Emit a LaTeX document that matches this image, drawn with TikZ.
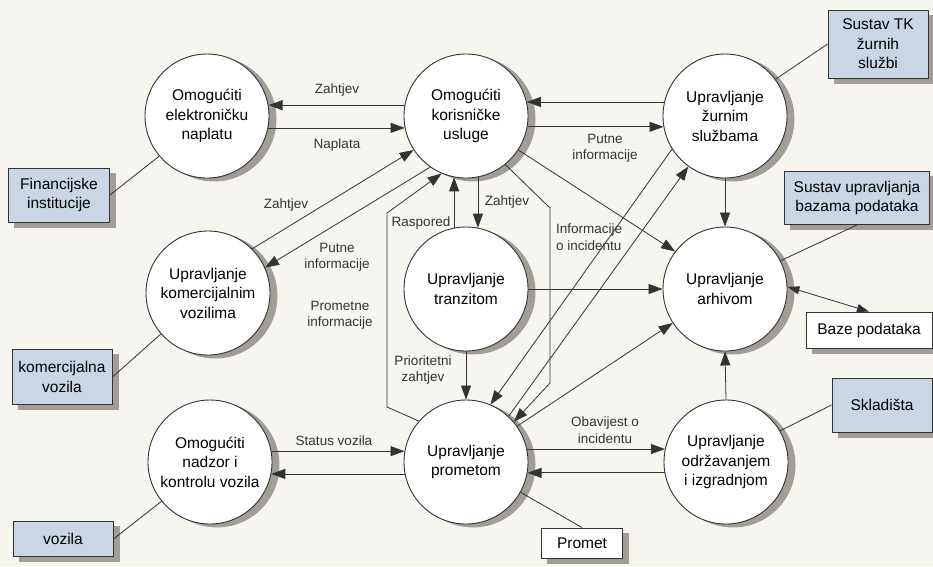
\documentclass[tikz,border=0pt]{standalone}
\usepackage{fontspec}
\setmainfont{Liberation Sans}
\usetikzlibrary{arrows.meta}
\definecolor{papir}{HTML}{F6F5EF}
\definecolor{crta}{HTML}{333333}
\definecolor{plava}{HTML}{CAD6E4}
\definecolor{sjena}{HTML}{A19E97}
\tikzset{
	proces/.style={circle, draw=crta, line width=0.9pt, fill=white, minimum size=124pt, inner sep=0pt, align=center, font=\fontsize{15.5}{19.5}\selectfont, preaction={fill=sjena, draw=sjena, transform canvas={shift={(7pt,-3pt)}}}},
	vanjski/.style={draw=crta, line width=0.9pt, fill=plava, inner sep=0pt, align=center, font=\fontsize{15.5}{19.5}\selectfont, preaction={fill=sjena, draw=sjena, transform canvas={shift={(6pt,-5pt)}}}},
	spremiste/.style={vanjski, fill=white},
	tok/.style={draw=crta, line width=0.8pt, -{Triangle[length=14pt,width=10pt]}},
	veza/.style={draw=crta, line width=0.8pt},
	oznaka/.style={text=crta, align=center, inner sep=1pt, font=\fontsize{13.5}{16.5}\selectfont}
}
\begin{document}
\begin{tikzpicture}[x=1pt, y=-1pt]
		\fill [papir](0,0) rectangle (933,566);
		\useasboundingbox (0,0) rectangle (933,566);

		\node [proces](A) at (207,116) {Omogućiti\\elektroničku\\naplatu};
		\node [proces](B) at (466,116) {Omogućiti\\korisničke\\usluge};
		\node [proces](C) at (725,116) {Upravljanje\\žurnim\\službama};
		\node [proces](D) at (208,293) {Upravljanje\\komercijalnim\\vozilima};
		\node [proces](E) at (466,289) {Upravljanje\\tranzitom};
		\node [proces](F) at (725,289) {Upravljanje\\arhivom};
		\node [proces](G) at (210,462) {Omogućiti\\nadzor i\\kontrolu vozila};
		\node [proces](H) at (466,462) {Upravljanje\\prometom};
		\node [proces](I) at (726,462) {Upravljanje\\održavanjem\\i izgradnjom};

		\node [vanjski, minimum width=101pt, minimum height=54pt](fin) at (59,195) {Financijske\\institucije};
		\node [vanjski, minimum width=100pt, minimum height=68pt](tk) at (878,44) {Sustav TK\\žurnih\\službi};
		\node [vanjski, minimum width=145pt, minimum height=53pt](subp) at (857,198) {Sustav upravljanja\\bazama podataka};
		\node [spremiste, minimum width=126pt, minimum height=36pt](baze) at (869,330) {Baze podataka};
		\node [vanjski, minimum width=100pt, minimum height=54pt](skl) at (882,405) {Skladišta};
		\node [vanjski, minimum width=100pt, minimum height=55pt](kom) at (62,377) {komercijalna\\vozila};
		\node [vanjski, minimum width=100pt, minimum height=35pt](voz) at (63,539) {vozila};
		\node [spremiste, minimum width=81pt, minimum height=30pt](prom) at (582,543) {Promet};

		\draw [tok](B.170) -- (A.10);
		\draw [tok](A.-11) -- (B.191);
		\draw [tok](C.167) -- (B.13);
		\draw [tok](B.-10) -- (C.190);
		\draw [tok](D.45) -- (B.213);
		\draw [tok](B.235) -- (D.24);
		\draw [tok](E.101) -- (B.259);
		\draw [tok](B.281) -- (E.79);
		\draw [tok](E.east) -- (F.west);
		\draw [tok](E.south) -- (H.north);
		\draw [tok](B.-33) -- (F.143);
		\draw [tok](C.south) -- (F.north);
		\draw [tok](I.north) -- (F.south);
		\draw [tok](C.212) -- (H.67);
		\draw [tok](H.47) -- (C.234);
		\draw [tok](H.35) -- (F.213);
		\draw [tok](B.-51) -- (550,208) -- (550,383) -- (H.40);
		\draw [tok](H.139) -- (387,407) -- (387,213) -- (B.247);
		\draw [tok](G.10) -- (H.170);
		\draw [tok](H.191) -- (G.-11);
		\draw [tok](H.12) -- (I.168);
		\draw [tok](I.190) -- (H.-10);
		\draw [tok, {Triangle[length=12pt,width=8pt]}-{Triangle[length=12pt,width=8pt]}](F.2) -- (baze.north);

		\draw [veza](fin.east) -- (A.220);
		\draw [veza](C.36) -- (tk.west);
		\draw [veza](F.27) -- (subp.south);
		\draw [veza](kom.east) -- (D.221);
		\draw [veza](voz.east) -- (G.219);
		\draw [veza](H.-29) -- (prom.north);
		\draw [veza](I.30) -- (skl.west);

		\node [oznaka](l1) at (337,90) {Zahtjev};
		\node [oznaka](l2) at (337,145) {Naplata};
		\node [oznaka](l3) at (605,148) {Putne\\informacije};
		\node [oznaka](l4) at (286,205) {Zahtjev};
		\node [oznaka](l5) at (337,257) {Putne\\informacije};
		\node [oznaka](l6) at (340,315) {Prometne\\informacije};
		\node [oznaka](l7) at (421,223) {Raspored};
		\node [oznaka](l8) at (507,202) {Zahtjev};
		\node [oznaka, align=left, anchor=west](l9) at (555,237) {Informacije\\o incidentu};
		\node [oznaka](l10) at (423,370) {Prioritetni\\zahtjev};
		\node [oznaka](l11) at (605,430) {Obavijest o\\incidentu};
		\node [oznaka](l12) at (334,441) {Status vozila};
	\end{tikzpicture}
\end{document}
